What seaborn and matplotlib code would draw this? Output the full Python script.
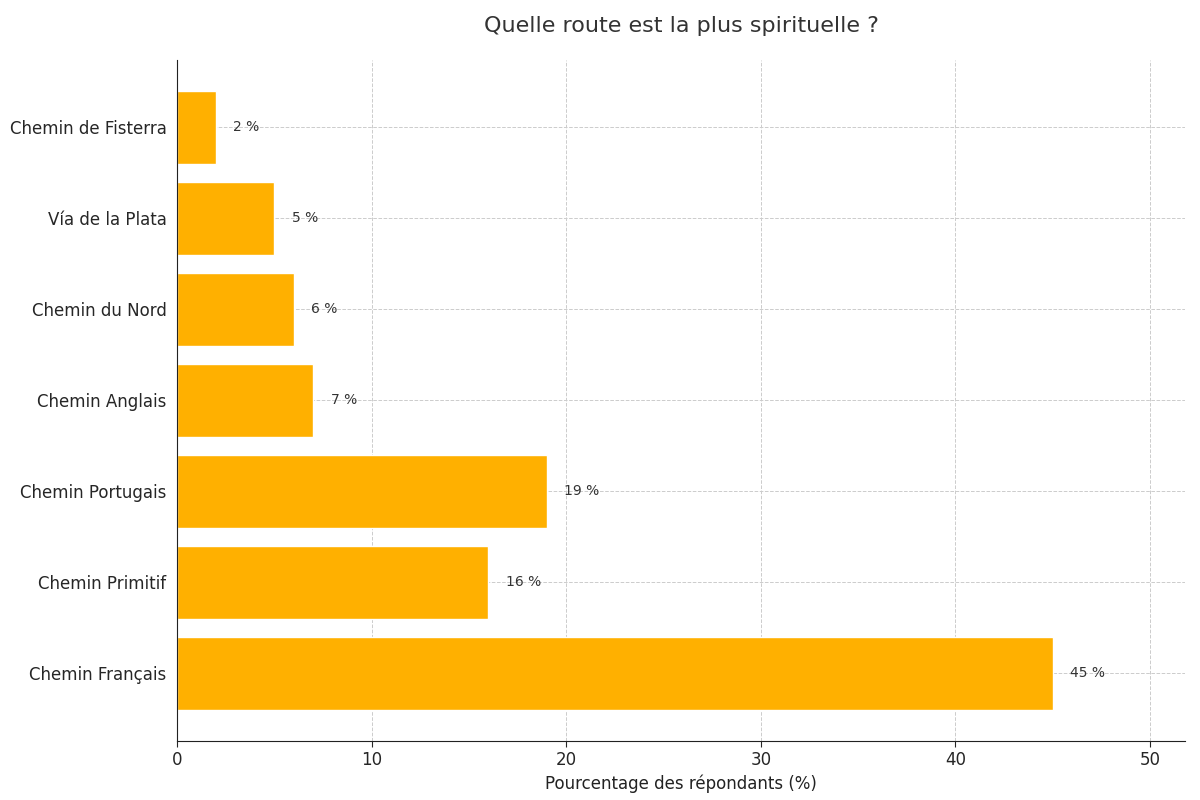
import matplotlib
matplotlib.use("Agg")
import matplotlib.pyplot as plt
import seaborn as sns
import pandas as pd

routes = ["Chemin Français", "Chemin Primitif", "Chemin Portugais", "Chemin Anglais",
          "Chemin du Nord", "Vía de la Plata", "Chemin de Fisterra"]
values = [45, 16, 19, 7, 6, 5, 2]

df = pd.DataFrame({"route": routes, "pct": values})
order = routes[::-1]  # top to bottom

sns.set_style("white")
plt.rcParams['font.family'] = ['DejaVu Sans']
fig, ax = plt.subplots(figsize=(12, 8), dpi=100)
fig.subplots_adjust(left=0.1475, right=0.9875, top=0.925, bottom=0.074)

sns.barplot(data=df, y="route", x="pct", order=order, color="#FFB000",
            saturation=1, width=0.8, ax=ax)
for i, r in enumerate(order):
    v = values[routes.index(r)]
    ax.text(v + 0.9, i, f"{v} %", va="center", ha="left", fontsize=10, color="#333333")

ax.set_xlim(0, 51.8)
ax.set_ylim(6.74, -0.74)
ax.grid(True, linestyle="--", color="#cccccc", linewidth=0.7)
ax.set_axisbelow(True)
for s in ["top", "right"]:
    ax.spines[s].set_visible(False)
for s in ["left", "bottom"]:
    ax.spines[s].set_color("#222222")
ax.tick_params(axis="both", labelsize=12, length=4, left=False, bottom=True)
ax.set_ylabel("")
ax.set_xlabel("Pourcentage des répondants (%)", fontsize=12, color="#222222")
ax.set_title("Quelle route est la plus spirituelle ?", fontsize=16, color="#333333", pad=20)
fig.savefig("out.png")
